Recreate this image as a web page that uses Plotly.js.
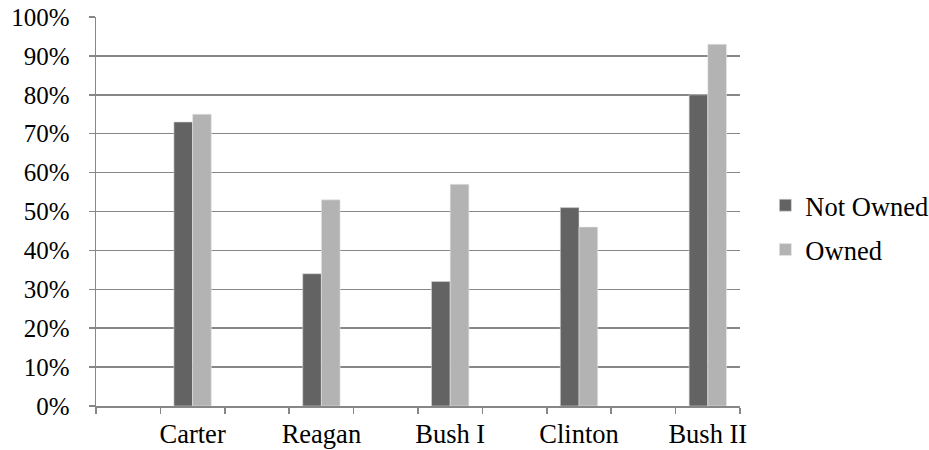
<!DOCTYPE html>
<html>
<head>
<meta charset="utf-8">
<script src="https://cdn.plot.ly/plotly-3.0.1.min.js"></script>
<style>
  html, body { margin: 0; padding: 0; background: #fff; }
  #chart { width: 929px; height: 450px; }
</style>
</head>
<body>
<div id="chart"></div>
<script>
// Share of cases by administration
const categories = ['Carter', 'Reagan', 'Bush I', 'Clinton', 'Bush II'];
const notOwned = [0.73, 0.34, 0.32, 0.51, 0.80];
const owned = [0.75, 0.53, 0.57, 0.46, 0.93];
const yTicks = [0, 0.1, 0.2, 0.3, 0.4, 0.5, 0.6, 0.7, 0.8, 0.9, 1.0];

// Each administration sits in the second of a pair of slots on the axis
const slot = categories.map((_, i) => 2 * i + 1.5);

const gridColor = '#878787';
const family = 'Liberation Serif, Times New Roman, serif';
const labelFont = { family: family, size: 26.5, color: '#000' };
const yFont = { family: family, size: 25, color: '#000' };

const traces = [
  {
    type: 'bar', name: 'Not Owned', x: slot, y: notOwned, legendgroup: 'n',
    marker: { color: '#636363', line: { color: '#d9d9d9', width: 0.6 } },
    hoverinfo: 'skip'
  },
  {
    type: 'bar', name: 'Owned', x: slot, y: owned, legendgroup: 'o',
    marker: { color: '#b3b3b3', line: { color: '#e6e6e6', width: 0.6 } },
    hoverinfo: 'skip'
  }
];

const layout = {
  width: 929, height: 450,
  margin: { l: 96, r: 189, t: 17, b: 44, autoexpand: false },
  paper_bgcolor: '#fff', plot_bgcolor: '#fff',
  font: labelFont,
  barmode: 'group', bargap: 0.71, bargroupgap: 0,
  showlegend: true,
  legend: {
    x: 1.0394, y: 0.459, xanchor: 'left', yanchor: 'middle',
    font: labelFont, tracegroupgap: 7, itemwidth: 30,
    bgcolor: 'rgba(0,0,0,0)'
  },
  xaxis: {
    range: [0, 10], fixedrange: true,
    tickmode: 'array', tickvals: slot, ticktext: categories,
    ticks: '', showgrid: false, zeroline: false,
    showline: true, linecolor: gridColor, linewidth: 1.5,
    tickfont: labelFont, ticklabelstandoff: 4,
    minor: { tickmode: 'linear', tick0: 0, dtick: 1, ticks: 'outside', ticklen: 6, tickwidth: 1.5, tickcolor: gridColor, showgrid: false }
  },
  yaxis: {
    range: [0, 1], fixedrange: true,
    tickmode: 'array', tickvals: yTicks, tickformat: '.0%',
    ticks: 'outside', ticklen: 6, tickwidth: 1.5, tickcolor: gridColor,
    showgrid: true, gridcolor: gridColor, gridwidth: 1.5,
    zeroline: false, showline: true, linecolor: gridColor, linewidth: 1.5,
    tickfont: yFont, ticklabelstandoff: 14
  }
};

Plotly.newPlot('chart', traces, layout, { displayModeBar: false, staticPlot: true });
</script>
</body>
</html>
